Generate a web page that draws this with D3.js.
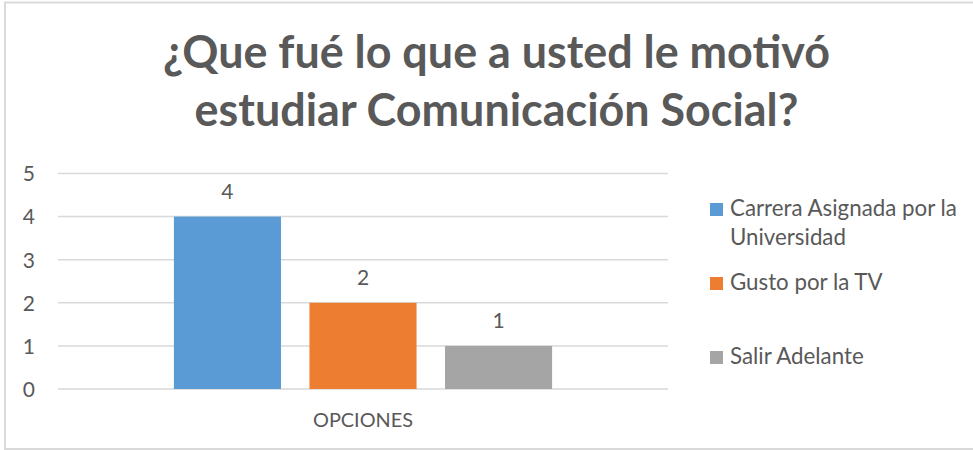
<!DOCTYPE html>
<html><head><meta charset="utf-8">
<script src="https://cdn.jsdelivr.net/npm/d3@7"></script>
<style>
html,body{margin:0;padding:0;background:#fff;}
svg{display:block;}
text{font-family:Lato,"Open Sans",sans-serif;fill:#595959;}
</style></head>
<body>
<script>
const titleLines = ["¿Que fué lo que a usted le motivó", "estudiar Comunicación Social?"];
const categories = ["OPCIONES"];
const seriesNames = ["Carrera Asignada por la Universidad", "Gusto por la TV", "Salir Adelante"];
const seriesValues = [4, 2, 1];
const seriesColors = ["#5b9bd5", "#ed7d31", "#a5a5a5"];
const yTicks = [0, 1, 2, 3, 4, 5];
const legendLines = [["Carrera Asignada por la", "Universidad"], ["Gusto por la TV"], ["Salir Adelante"]];

const W = 973, H = 450;
const svg = d3.select("body").append("svg").attr("width", W).attr("height", H);

// chart border
svg.append("rect").attr("x", 5).attr("y", 2.5).attr("width", W + 10).attr("height", 446.5)
  .attr("fill", "#fff").attr("stroke", "#d9d9d9").attr("stroke-width", 2);

function fit(sel, target) {
  const w = sel.node().getComputedTextLength();
  const fs = parseFloat(sel.attr("font-size"));
  sel.attr("font-size", (fs * target / w).toFixed(2));
}

// title
const t1 = svg.append("text").attr("x", 496.5).attr("y", 68).attr("text-anchor", "middle")
  .attr("font-weight", "bold").attr("font-size", 36).text(titleLines[0]);
fit(t1, 667);
svg.append("text").attr("x", 496.5).attr("y", 126).attr("text-anchor", "middle")
  .attr("font-weight", "bold").attr("font-size", t1.attr("font-size")).text(titleLines[1]);

// scales
const plotL = 58, plotR = 668;
const y = d3.scaleLinear().domain([0, 5]).range([389, 173.5]);
const x0 = d3.scaleBand().domain(categories).range([plotL, plotR]).paddingInner(0).paddingOuter(0);
const x1 = d3.scaleBand().domain(seriesNames)
  .range([x0.bandwidth() * 0.19, x0.bandwidth() * 0.81]).paddingInner(0.21).paddingOuter(0);

// gridlines
svg.append("g").selectAll("line").data(yTicks).join("line")
  .attr("x1", plotL).attr("x2", plotR)
  .attr("y1", d => y(d)).attr("y2", d => y(d))
  .attr("stroke", "#d9d9d9").attr("stroke-width", 1.5);

// y axis labels
const yAxis = d3.axisLeft(y).tickValues(yTicks).tickSize(0).tickPadding(0).tickFormat(d3.format("d"));
const gy = svg.append("g").attr("transform", "translate(35,0)").call(yAxis);
gy.select(".domain").remove();
gy.selectAll("text").attr("font-size", 21).attr("fill", "#595959")
  .style("font-family", "Lato, 'Open Sans', sans-serif").attr("dy", "0.35em").attr("x", 0);

// bars
const g = svg.append("g");
categories.forEach(cat => {
  const gx = x0(cat);
  g.selectAll("rect.bar").data(seriesNames).join("rect").attr("class", "bar")
    .attr("x", (d) => gx + x1(d))
    .attr("y", (d, i) => y(seriesValues[i]))
    .attr("width", x1.bandwidth())
    .attr("height", (d, i) => y(0) - y(seriesValues[i]))
    .attr("fill", (d, i) => seriesColors[i]);
  g.selectAll("text.lbl").data(seriesNames).join("text").attr("class", "lbl")
    .attr("x", d => gx + x1(d) + x1.bandwidth() / 2)
    .attr("y", (d, i) => y(seriesValues[i]) - 18)
    .attr("text-anchor", "middle").attr("font-size", 21)
    .text((d, i) => seriesValues[i]);
});

// x axis label
const xAxis = d3.axisBottom(x0).tickSize(0).tickPadding(0);
const gxa = svg.append("g").attr("transform", "translate(0,427)").call(xAxis);
gxa.select(".domain").remove();
gxa.selectAll("text").attr("font-size", 18).attr("fill", "#595959")
  .style("font-family", "Lato, 'Open Sans', sans-serif").attr("dy", 0).attr("y", 0)
  .each(function() { fit(d3.select(this), 100); });

// legend
const legY = [216, 290, 364];
const leg = svg.append("g");
let legFs = 20;
legendLines.forEach((lines, i) => {
  leg.append("rect").attr("x", 710).attr("y", legY[i] - 13).attr("width", 13).attr("height", 13)
    .attr("fill", seriesColors[i]);
  lines.forEach((ln, j) => {
    const t = leg.append("text").attr("x", 730).attr("y", legY[i] + j * 29)
      .attr("font-size", legFs).text(ln);
    if (i === 0 && j === 0) { fit(t, 227); legFs = parseFloat(t.attr("font-size")); }
  });
});
</script>
</body></html>
